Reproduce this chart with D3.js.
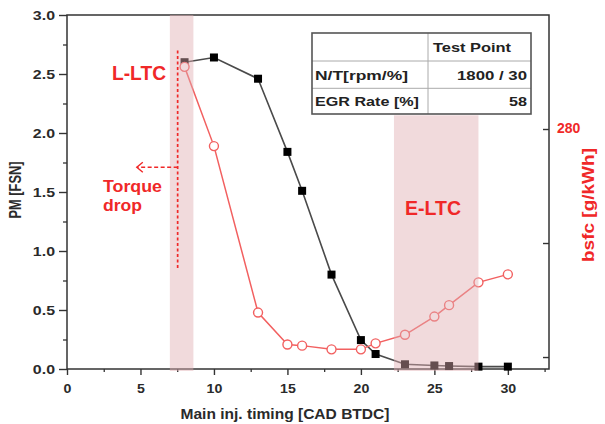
<!DOCTYPE html>
<html><head><meta charset="utf-8">
<script src="https://cdn.jsdelivr.net/npm/d3@7"></script>
<style>
body{margin:0;background:#fff;}
text{font-family:"Liberation Sans",Arial,sans-serif;font-weight:bold;}
</style></head>
<body><svg id="c" width="605" height="424"></svg>
<script>
const timing = [8, 10, 13, 15, 16, 18, 20, 21, 23, 25, 26, 28, 30];
const pm =     [2.60, 2.64, 2.46, 1.84, 1.51, 0.80, 0.245, 0.127, 0.04, 0.03, 0.025, 0.02, 0.02];
const bsfc =   [290.9, 277.0, 247.8, 242.2, 242.0, 241.35, 241.35, 242.4, 243.9, 247.1, 249.1, 253.1, 254.5];
const xTicks = [0, 5, 10, 15, 20, 25, 30];
const yTicks = [0, 0.5, 1.0, 1.5, 2.0, 2.5, 3.0];
const y2Ticks = [240, 260, 280];
const y2Labels = ["", "", "280"];
const bands = [[7.0, 8.6, 3.0], [22.25, 28.0, 2.15]];
const tableRows = [["", "Test Point"], ["N/T[rpm/%]", "1800 / 30"], ["EGR Rate [%]", "58"]];

const svg = d3.select("#c");
const L = 67, R = 549, T = 15, B = 369;
const x = d3.scaleLinear().domain([0, 32.8]).range([L, R]);
const y = d3.scaleLinear().domain([0, 3]).range([B, T]);
const y2 = d3.scaleLinear().domain([237.9, 300]).range([B, T]);
const axisCol = "#333";
const red = "#f02828";
const lineRed = "#f26060";

function stretch(sel, f) {
  sel.each(function () {
    const w = this.getComputedTextLength();
    d3.select(this).attr("textLength", w * f).attr("lengthAdjust", "spacingAndGlyphs");
  });
}

// minor ticks
const gMinL = svg.append("g").attr("transform", `translate(${L},0)`)
  .call(d3.axisLeft(y).tickValues(d3.range(0.25, 3, 0.5)).tickSize(4).tickFormat(""));
const gMinB = svg.append("g").attr("transform", `translate(0,${B})`)
  .call(d3.axisBottom(x).tickValues(d3.range(2.5, 33, 5)).tickSize(3).tickFormat(""));
[gMinL, gMinB].forEach(g => { g.select(".domain").remove(); g.selectAll("line").attr("stroke", axisCol).attr("stroke-width", 1.3); });

// left axis
const gL = svg.append("g").attr("transform", `translate(${L},0)`)
  .call(d3.axisLeft(y).tickValues(yTicks).tickSize(8).tickPadding(4).tickFormat(d3.format(".1f")));
// bottom axis
const gB = svg.append("g").attr("transform", `translate(0,${B})`)
  .call(d3.axisBottom(x).tickValues(xTicks).tickSize(6).tickPadding(8).tickFormat(d3.format("d")));
// right axis
const gR = svg.append("g").attr("transform", `translate(${R},0)`)
  .call(d3.axisLeft(y2).tickValues(y2Ticks).tickSize(6).tickFormat(""));
[gL, gB, gR].forEach(g => {
  g.select(".domain").remove();
  g.selectAll("line").attr("stroke", axisCol).attr("stroke-width", 1.4);
  g.selectAll("text").attr("fill", "#2a2a2a").style("font-size", "13.5px").style("font-family", '"Liberation Sans",Arial,sans-serif').style("font-weight", "bold");
});
stretch(gL.selectAll("text"), 1.18);
stretch(gB.selectAll("text"), 1.05);
svg.selectAll(".r280").data(y2Ticks).enter().append("text")
  .attr("x", R + 8).attr("y", d => y2(d)).attr("dy", "0.32em")
  .attr("fill", red).style("font-size", "14px")
  .text((d, i) => y2Labels[i]);

// frame
svg.append("rect").attr("x", L).attr("y", T).attr("width", R - L).attr("height", B - T)
  .attr("fill", "none").attr("stroke", axisCol).attr("stroke-width", 1.5);

// series lines
const lineB = d3.line().x((d, i) => x(timing[i])).y(d => y(d));
svg.append("path").attr("d", lineB(pm)).attr("fill", "none").attr("stroke", "#4a4a4a").attr("stroke-width", 1.6);
const lineR = d3.line().x((d, i) => x(timing[i])).y(d => y2(d));
svg.append("path").attr("d", lineR(bsfc)).attr("fill", "none").attr("stroke", lineRed).attr("stroke-width", 1.5);
svg.selectAll(".sq").data(pm).enter().append("rect")
  .attr("x", (d, i) => x(timing[i]) - 4).attr("y", d => y(d) - 4).attr("width", 8).attr("height", 8)
  .attr("fill", "#000");
svg.selectAll(".ci").data(bsfc).enter().append("circle")
  .attr("cx", (d, i) => x(timing[i])).attr("cy", d => y2(d)).attr("r", 4.5)
  .attr("fill", "#fff").attr("stroke", lineRed).attr("stroke-width", 1.4);

// shaded bands (on top)
svg.selectAll(".band").data(bands).enter().append("rect")
  .attr("x", d => x(d[0])).attr("width", d => x(d[1]) - x(d[0]))
  .attr("y", d => y(d[2])).attr("height", d => B + 2 - y(d[2]))
  .attr("fill", "rgb(223,172,178)").attr("opacity", 0.45);

// dashed marker and arrow
const xm = x(7.53);
svg.append("line").attr("x1", xm).attr("x2", xm).attr("y1", y(2.7)).attr("y2", y(0.84))
  .attr("stroke", red).attr("stroke-width", 1.7).attr("stroke-dasharray", "3,2.5");
const ya = y(1.71);
svg.append("line").attr("x1", xm).attr("x2", x(4.75)).attr("y1", ya).attr("y2", ya)
  .attr("stroke", red).attr("stroke-width", 1.4).attr("stroke-dasharray", "4,2.5");
svg.append("path").attr("d", `M${x(4.75) + 6},${ya - 5} L${x(4.75)},${ya} L${x(4.75) + 6},${ya + 5}`)
  .attr("fill", "none").attr("stroke", red).attr("stroke-width", 1.4);

// annotations
const ann = [
  {t: "L-LTC", x: 112, y: 80, s: 20, w: 54},
  {t: "Torque", x: 103, y: 192, s: 17, w: 59},
  {t: "drop", x: 103, y: 211, s: 17, w: 39},
  {t: "E-LTC", x: 405, y: 215, s: 20, w: 56}
];
svg.selectAll(".ann").data(ann).enter().append("text")
  .attr("x", d => d.x).attr("y", d => d.y).attr("fill", red)
  .style("font-size", d => d.s + "px").attr("textLength", d => d.w).attr("lengthAdjust", "spacingAndGlyphs")
  .text(d => d.t);

// axis titles
svg.append("text").attr("transform", "translate(21,190) rotate(-90)").attr("text-anchor", "middle")
  .attr("fill", "#2a2a2a").style("font-size", "16px").attr("textLength", 57).attr("lengthAdjust", "spacingAndGlyphs")
  .text("PM [FSN]");
svg.append("text").attr("x", 285).attr("y", 419).attr("text-anchor", "middle")
  .attr("fill", "#2a2a2a").style("font-size", "15.5px").attr("textLength", 209).attr("lengthAdjust", "spacingAndGlyphs")
  .text("Main inj. timing [CAD BTDC]");
svg.append("text").attr("transform", "translate(594,205) rotate(-90)").attr("text-anchor", "middle")
  .attr("fill", red).style("font-size", "17px").attr("textLength", 114).attr("lengthAdjust", "spacingAndGlyphs")
  .text("bsfc [g/kWh]");

// table
const tx = [312, 428, 531], ty = [33, 61, 88.3, 114];
const tg = svg.append("g");
tg.append("rect").attr("x", tx[0]).attr("y", ty[0]).attr("width", tx[2] - tx[0]).attr("height", ty[3] - ty[0]).attr("fill", "#fff");
[ty[1], ty[2]].forEach(v => tg.append("line").attr("x1", tx[0]).attr("x2", tx[2]).attr("y1", v).attr("y2", v).attr("stroke", "#aaa").attr("stroke-width", 1));
tg.append("line").attr("x1", tx[1]).attr("x2", tx[1]).attr("y1", ty[0]).attr("y2", ty[3]).attr("stroke", "#aaa").attr("stroke-width", 1);
tg.append("rect").attr("x", tx[0]).attr("y", ty[0]).attr("width", tx[2] - tx[0]).attr("height", ty[3] - ty[0])
  .attr("fill", "none").attr("stroke", "#555").attr("stroke-width", 1.6);
const cellW = [[0, 78], [93, 70], [104, 18]];
tableRows.forEach((row, r) => {
  const base = (ty[r] + ty[r + 1]) / 2 + 5;
  if (row[0]) tg.append("text").attr("x", 315).attr("y", base).attr("fill", "#222").style("font-size", "13px")
    .attr("textLength", cellW[r][0]).attr("lengthAdjust", "spacingAndGlyphs").text(row[0]);
  if (r === 0) tg.append("text").attr("x", 433).attr("y", base).attr("fill", "#222").style("font-size", "13px")
    .attr("textLength", 78).attr("lengthAdjust", "spacingAndGlyphs").text(row[1]);
  else tg.append("text").attr("x", 527).attr("y", base).attr("text-anchor", "end").attr("fill", "#222").style("font-size", "13px")
    .attr("textLength", cellW[r][1]).attr("lengthAdjust", "spacingAndGlyphs").text(row[1]);
});
</script></body></html>
